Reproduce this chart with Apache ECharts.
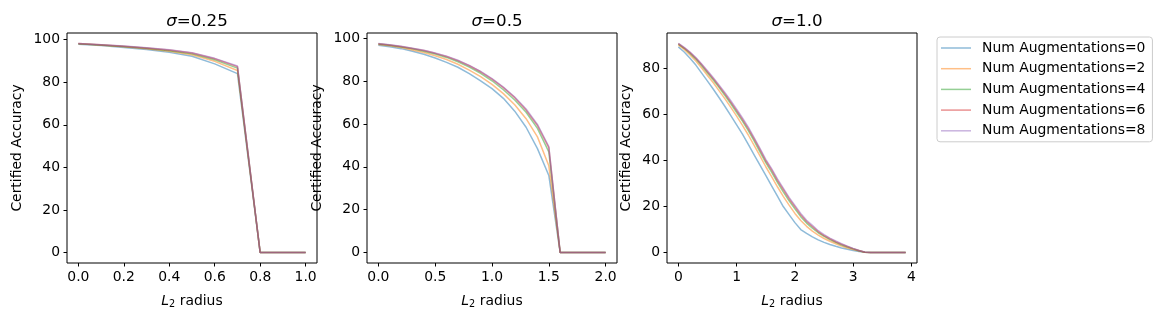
<!DOCTYPE html>
<html>
<head>
<meta charset="utf-8">
<script src="https://cdn.jsdelivr.net/npm/echarts@6/dist/echarts.min.js"></script>
<style>
  html, body { margin: 0; padding: 0; background: #fff; }
  #chart { width: 1160px; height: 320px; }
</style>
</head>
<body>
<div id="chart"></div>
<script>
// radii grid for each sigma
var radius025 = [0.0, 0.1, 0.2, 0.3, 0.4, 0.5, 0.6, 0.7, 0.8, 0.9, 1.0];
var radius05 = [0.0, 0.1, 0.2, 0.3, 0.4, 0.5, 0.6, 0.7, 0.8, 0.9, 1.0,
  1.1, 1.2, 1.3, 1.4, 1.5, 1.6, 1.7, 1.8, 1.9, 2.0];
var radius10 = [0.0, 0.1, 0.2, 0.3, 0.4, 0.5, 0.6, 0.7, 0.8, 0.9, 1.0,
  1.1, 1.2, 1.3, 1.4, 1.5, 1.6, 1.7, 1.8, 1.9, 2.0,
  2.1, 2.2, 2.3, 2.4, 2.5, 2.6, 2.7, 2.8, 2.9, 3.0,
  3.1, 3.2, 3.3, 3.4, 3.5, 3.6, 3.7, 3.8, 3.9];

var seriesNames = ['Num Augmentations=0', 'Num Augmentations=2', 'Num Augmentations=4',
  'Num Augmentations=6', 'Num Augmentations=8'];
var colors = ['rgba(31,119,180,0.5)', 'rgba(255,127,14,0.5)', 'rgba(44,160,44,0.5)',
  'rgba(214,39,40,0.5)', 'rgba(148,103,189,0.5)'];

// sigma = 0.25
var acc025_n0 = [97.8, 97.2, 96.3, 95.3, 94.0, 92.2, 88.6, 84.0, 0, 0, 0];
var acc025_n2 = [98.0, 97.4, 96.6, 95.7, 94.5, 92.9, 89.8, 85.5, 0, 0, 0];
var acc025_n4 = [98.1, 97.5, 96.8, 95.9, 94.8, 93.3, 90.5, 86.6, 0, 0, 0];
var acc025_n6 = [98.2, 97.6, 96.9, 96.1, 95.1, 93.7, 91.0, 87.3, 0, 0, 0];
var acc025_n8 = [98.2, 97.6, 97.0, 96.2, 95.2, 93.8, 91.2, 87.6, 0, 0, 0];

// sigma = 0.5
var acc05_n0 = [96.8, 96.1, 95.2, 94.0, 92.6, 90.8, 88.8, 86.5, 83.5, 80.2, 76.5,
  72.0, 66.0, 58.5, 48.5, 36.0, 0, 0, 0, 0, 0];
var acc05_n2 = [97.1, 96.5, 95.7, 94.6, 93.4, 91.9, 90.1, 87.9, 85.2, 82.1, 78.5,
  74.2, 69.0, 62.5, 54.0, 40.5, 0, 0, 0, 0, 0];
var acc05_n4 = [97.4, 96.8, 96.0, 95.1, 94.0, 92.7, 91.1, 89.1, 86.6, 83.7, 80.2,
  76.0, 71.2, 65.5, 58.0, 47.0, 0, 0, 0, 0, 0];
var acc05_n6 = [97.5, 96.9, 96.2, 95.3, 94.3, 93.0, 91.5, 89.6, 87.2, 84.4, 81.0,
  77.0, 72.3, 66.5, 59.3, 49.0, 0, 0, 0, 0, 0];
var acc05_n8 = [97.6, 97.0, 96.3, 95.4, 94.4, 93.2, 91.7, 89.8, 87.4, 84.6, 81.2,
  77.2, 72.6, 67.0, 59.8, 49.5, 0, 0, 0, 0, 0];

// sigma = 1.0
var acc10_n0 = [89.4, 87.2, 84.5, 81.5, 78.0, 74.5, 71.0, 67.3, 63.5, 59.5, 55.5,
  51.5, 47.0, 42.5, 38.0, 33.5, 29.0, 24.5, 20.0, 16.5, 13.0,
  10.0, 8.3, 6.8, 5.5, 4.4, 3.5, 2.7, 2.0, 1.4, 0.9,
  0.5, 0.1, 0, 0, 0, 0, 0, 0, 0];
var acc10_n2 = [90.3, 88.3, 85.9, 83.3, 80.2, 77.0, 73.8, 70.3, 66.8, 63.1, 59.3,
  55.3, 51.1, 46.6, 42.0, 37.3, 33.0, 28.6, 24.4, 20.6, 17.0,
  13.9, 11.4, 9.3, 7.6, 6.1, 4.9, 3.8, 2.8, 2.0, 1.3,
  0.7, 0.1, 0, 0, 0, 0, 0, 0, 0];
var acc10_n4 = [90.6, 88.8, 86.6, 84.1, 81.2, 78.1, 75.0, 71.7, 68.3, 64.7, 60.9,
  57.1, 53.0, 48.5, 43.8, 39.1, 35.0, 30.5, 26.4, 22.5, 19.0,
  15.6, 12.8, 10.6, 8.6, 7.0, 5.6, 4.4, 3.3, 2.4, 1.6,
  0.8, 0.1, 0, 0, 0, 0, 0, 0, 0];
var acc10_n6 = [90.8, 89.0, 86.9, 84.5, 81.7, 78.6, 75.6, 72.3, 69.0, 65.4, 61.7,
  57.9, 53.9, 49.4, 44.7, 39.9, 35.9, 31.4, 27.4, 23.4, 19.9,
  16.4, 13.5, 11.3, 9.1, 7.4, 6.0, 4.7, 3.6, 2.6, 1.7,
  0.9, 0.1, 0, 0, 0, 0, 0, 0, 0];
var acc10_n8 = [90.9, 89.2, 87.2, 84.8, 82.0, 79.0, 76.0, 72.8, 69.5, 66.0, 62.3,
  58.5, 54.5, 50.0, 45.3, 40.5, 36.5, 32.0, 28.0, 24.0, 20.5,
  17.0, 14.0, 11.8, 9.5, 7.8, 6.3, 5.0, 3.8, 2.8, 1.8,
  0.9, 0.2, 0, 0, 0, 0, 0, 0, 0];

var xTicks025 = [0, 0.2, 0.4, 0.6, 0.8, 1.0];
var xTicks05 = [0, 0.5, 1.0, 1.5, 2.0];
var xTicks10 = [0, 1, 2, 3, 4];
var yTicks100 = [0, 20, 40, 60, 80, 100];
var yTicks80 = [0, 20, 40, 60, 80];

var FONT = 'DejaVu Sans';
var panels = [
  { sigma: '0.25', left: 67, xs: radius025, ys: [acc025_n0, acc025_n2, acc025_n4, acc025_n6, acc025_n8],
    xMin: -0.05, xMax: 1.05, xTicks: xTicks025, xDigits: 1,
    yMin: -4.91, yMax: 103.1, yTicks: yTicks100, nameGap: 43 },
  { sigma: '0.5', left: 367, xs: radius05, ys: [acc05_n0, acc05_n2, acc05_n4, acc05_n6, acc05_n8],
    xMin: -0.1, xMax: 2.1, xTicks: xTicks05, xDigits: 1,
    yMin: -4.88, yMax: 102.5, yTicks: yTicks100, nameGap: 43 },
  { sigma: '1.0', left: 667, xs: radius10, ys: [acc10_n0, acc10_n2, acc10_n4, acc10_n6, acc10_n8],
    xMin: -0.195, xMax: 4.095, xTicks: xTicks10, xDigits: 0,
    yMin: -4.55, yMax: 95.45, yTicks: yTicks80, nameGap: 34 }
];

var grids = [], xAxes = [], yAxes = [], titles = [], series = [];
panels.forEach(function (p, i) {
  grids.push({ left: p.left, top: 33, width: 250, height: 230, show: true,
    borderColor: '#000', borderWidth: 1, backgroundColor: 'transparent' });
  titles.push({
    text: '{i|σ}=' + p.sigma, left: p.left + 125, top: 8, textAlign: 'center',
    textStyle: { fontFamily: FONT, fontSize: 16.7, fontWeight: 'normal', color: '#000',
      rich: { i: { fontFamily: FONT, fontStyle: 'italic', fontSize: 16.7, color: '#000' } } }
  });
  var digits = p.xDigits;
  xAxes.push({
    type: 'value', gridIndex: i, min: p.xMin, max: p.xMax, position: 'bottom',
    axisLine: { show: false, onZero: false },
    axisTick: { show: true, length: 3.5, lineStyle: { color: '#000', width: 1 }, customValues: p.xTicks },
    axisLabel: { customValues: p.xTicks, margin: 7, color: '#000', fontFamily: FONT, fontSize: 13.9,
      formatter: function (v) { return v.toFixed(digits); } },
    splitLine: { show: false },
    name: '{i|L}{s|2} radius', nameLocation: 'middle', nameGap: 30,
    nameTextStyle: { fontFamily: FONT, fontSize: 13.9, color: '#000',
      rich: {
        i: { fontFamily: FONT, fontStyle: 'italic', fontSize: 13.9, color: '#000' },
        s: { fontFamily: FONT, fontSize: 9.7, color: '#000', verticalAlign: 'bottom', padding: [6, 0, 0, 0] }
      } }
  });
  yAxes.push({
    type: 'value', gridIndex: i, min: p.yMin, max: p.yMax, position: 'left',
    axisLine: { show: false, onZero: false },
    axisTick: { show: true, length: 3.5, lineStyle: { color: '#000', width: 1 }, customValues: p.yTicks },
    axisLabel: { customValues: p.yTicks, margin: 7, color: '#000', fontFamily: FONT, fontSize: 13.9 },
    splitLine: { show: false },
    name: 'Certified Accuracy', nameLocation: 'middle', nameGap: p.nameGap,
    nameTextStyle: { fontFamily: FONT, fontSize: 13.9, color: '#000' }
  });
  p.ys.forEach(function (ys, k) {
    var pts = [];
    for (var j = 0; j < p.xs.length; j++) pts.push([p.xs[j], ys[j]]);
    series.push({
      type: 'line', name: seriesNames[k], xAxisIndex: i, yAxisIndex: i,
      data: pts, symbol: 'none', showSymbol: false, silent: true,
      lineStyle: { width: 1.5, color: colors[k] }, itemStyle: { color: colors[k] }
    });
  });
});

var chart = echarts.init(document.getElementById('chart'));
chart.setOption({
  animation: false,
  title: titles,
  grid: grids,
  xAxis: xAxes,
  yAxis: yAxes,
  legend: {
    data: seriesNames, orient: 'vertical', left: 937, top: 37,
    icon: 'rect', itemWidth: 30, itemHeight: 1.5, itemGap: 6.7,
    padding: [4, 7, 4, 4], borderColor: '#ccc', borderWidth: 1, borderRadius: 3,
    textStyle: { fontFamily: FONT, fontSize: 13.9, color: '#000', lineHeight: 14, padding: [0, 0, 0, 6] }
  },
  series: series
});
</script>
</body>
</html>
